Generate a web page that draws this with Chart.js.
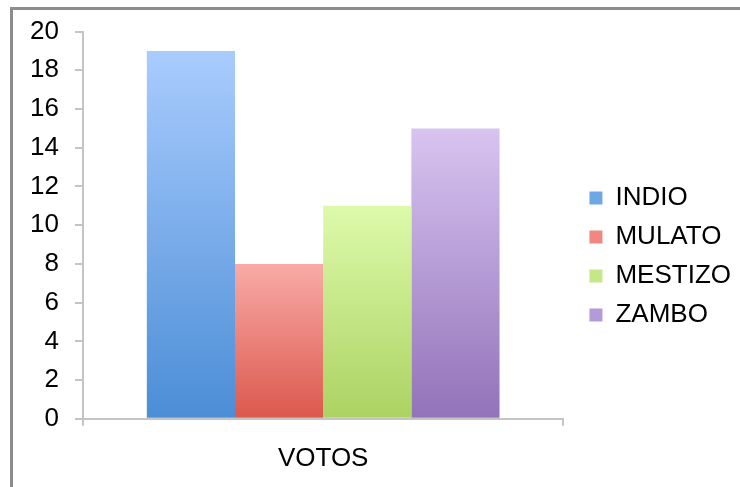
<!DOCTYPE html>
<html lang="es">
<head>
    <meta charset="UTF-8">
    <title>Votos</title>
    <style>
        body { margin: 0; background: #fff; overflow: hidden; }
        #wrap { position: relative; width: 740px; height: 487px; overflow: hidden; }
        #frame {
            position: absolute; left: 10px; top: 7px; width: 800px; height: 600px;
            border-left: 3px solid #8c8c8c; border-top: 3px solid #8c8c8c;
        }
        canvas { position: absolute; left: 0; top: 0; }
    </style>
</head>
<body>
    <div id="wrap">
        <div id="frame"></div>
        <canvas id="votos" width="740" height="491"></canvas>
    </div>
    <script src="https://cdn.jsdelivr.net/npm/chart.js"></script>
    <script>
        const categories = ['VOTOS'];
        const groups = ['INDIO', 'MULATO', 'MESTIZO', 'ZAMBO'];
        const votes = [19, 8, 11, 15];
        const yTicks = [0, 2, 4, 6, 8, 10, 12, 14, 16, 18, 20];

        // light top / dark bottom for each bar
        const shades = [
            ['#a9ccfe', '#4b8dd6'],
            ['#f9aba7', '#db584c'],
            ['#ddfaab', '#acd262'],
            ['#d8c4f0', '#9272b9']
        ];
        const legendColors = ['#6fa6e6', '#ef8880', '#c6e788', '#b39bd9'];

        const font = { family: '"Liberation Sans", Arial, sans-serif', size: 26 };

        function barFill(i) {
            return function (ctx) {
                const chart = ctx.chart;
                if (!chart.chartArea || ctx.type !== 'data') return shades[i][1];
                const y = chart.scales.y;
                const top = y.getPixelForValue(ctx.raw);
                const bottom = y.getPixelForValue(0);
                const g = chart.ctx.createLinearGradient(0, top, 0, bottom);
                g.addColorStop(0, shades[i][0]);
                g.addColorStop(1, shades[i][1]);
                return g;
            };
        }

        // leave a wider gap between the plot and the legend entries
        const legendGap = {
            id: 'legendGap',
            afterLayout(chart) {
                if (!chart.legend) return;
                chart.legend.left += 13;
                chart.legend.right += 13;
            }
        };

        const datasets = groups.map((name, i) => ({
            label: name,
            data: [votes[i]],
            backgroundColor: barFill(i),
            borderWidth: 0
        }));

        new Chart(document.getElementById('votos'), {
            type: 'bar',
            data: { labels: categories, datasets: datasets },
            plugins: [legendGap],
            options: {
                responsive: false,
                animation: false,
                layout: { padding: { left: 14, right: 12, top: 22, bottom: 0 } },
                plugins: {
                    tooltip: { enabled: false },
                    legend: {
                        position: 'right',
                        labels: {
                            font: font,
                            color: '#000',
                            boxWidth: 13,
                            boxHeight: 13,
                            padding: 13,
                            generateLabels: chart => chart.data.datasets.map((ds, i) => ({
                                text: ds.label,
                                fillStyle: legendColors[i],
                                strokeStyle: legendColors[i],
                                lineWidth: 0,
                                datasetIndex: i
                            }))
                        }
                    }
                },
                datasets: {
                    bar: { categoryPercentage: 0.734, barPercentage: 1 }
                },
                scales: {
                    x: {
                        grid: { drawOnChartArea: false, tickLength: 7, color: '#c4c4c4', lineWidth: 2 },
                        border: { color: '#c4c4c4', width: 2 },
                        ticks: { font: font, color: '#000', padding: 17 }
                    },
                    y: {
                        min: 0,
                        max: 20,
                        afterBuildTicks: axis => { axis.ticks = yTicks.map(v => ({ value: v })); },
                        grid: { drawOnChartArea: false, tickLength: 8, color: '#c4c4c4', lineWidth: 2 },
                        border: { color: '#c4c4c4', width: 2 },
                        ticks: { font: font, color: '#000', padding: 16, autoSkip: false }
                    }
                }
            }
        });
    </script>
</body>
</html>
